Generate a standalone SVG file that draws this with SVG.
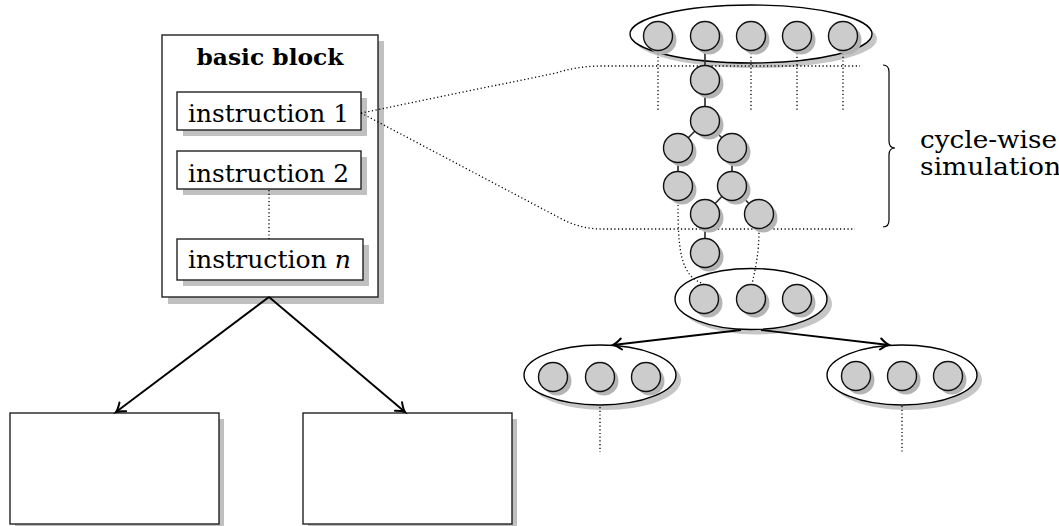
<svg xmlns="http://www.w3.org/2000/svg" width="1059" height="526" viewBox="0 0 1059 526">
  <defs>
    <marker id="arrow" markerUnits="userSpaceOnUse" markerWidth="20" markerHeight="20" viewBox="-10 -10 20 20" refX="0" refY="0" orient="auto">
      <path d="M-8.5,-5.5 C-5,-2.5 -2,-0.6 0,0 C-2,0.6 -5,2.5 -8.5,5.5" fill="none" stroke="#000" stroke-width="2" stroke-linecap="round"/>
    </marker>
  </defs>
  <style>
    .box { fill: #fff; stroke: #222; stroke-width: 1.4; }
    .shadow { fill: #c0c0c0; stroke: none; }
    .eshadow { fill: #c6c6c6; stroke: none; }
    .ell { fill: #fff; stroke: #000; stroke-width: 1.4; }
    .dot { fill: #ccc; stroke: #111; stroke-width: 1.4; }
    .dshadow { fill: #b4b4b4; stroke: none; }
    .dotted { fill: none; stroke: #000; stroke-width: 1.3; stroke-dasharray: 1.2 2.5; }
    .edge { fill: none; stroke: #333; stroke-width: 1.7; }
    .arrow { fill: none; stroke: #000; stroke-width: 1.9; marker-end: url(#arrow); }
    .lbl { font-family: "DejaVu Serif", "Liberation Serif", serif; font-size: 24.5px; fill: #000; }
    .title { font-family: "DejaVu Serif", "Liberation Serif", serif; font-size: 23px; font-weight: bold; fill: #000; }
  </style>

  <!-- basic block with its instruction list -->
  <g id="basic-block">
    <rect class="shadow" x="168" y="41" width="216" height="263"/>
    <rect class="box" x="162" y="35" width="216" height="262"/>
    <text class="title" x="270" y="65" text-anchor="middle" textLength="147" lengthAdjust="spacingAndGlyphs">basic block</text>
  </g>
  <g id="instruction-1">
    <rect class="shadow" x="183" y="98" width="184" height="38"/>
    <rect class="box" x="177" y="92" width="184" height="38"/>
    <text class="lbl" x="188" y="122" textLength="161" lengthAdjust="spacingAndGlyphs">instruction 1</text>
  </g>
  <g id="instruction-2">
    <rect class="shadow" x="183" y="157" width="184" height="38"/>
    <rect class="box" x="177" y="151" width="184" height="38"/>
    <text class="lbl" x="188" y="182" textLength="161" lengthAdjust="spacingAndGlyphs">instruction 2</text>
  </g>
  <g id="instruction-n">
    <rect class="shadow" x="183" y="245" width="186" height="41"/>
    <rect class="box" x="177" y="239" width="186" height="41"/>
    <text class="lbl" x="188" y="268" textLength="163" lengthAdjust="spacingAndGlyphs">instruction <tspan font-style="italic">n</tspan></text>
  </g>

  <!-- successor blocks -->
  <g id="successor-left">
    <rect class="shadow" x="15" y="419" width="209" height="111"/>
    <rect class="box" x="10" y="413" width="209" height="111"/>
  </g>
  <g id="successor-right">
    <rect class="shadow" x="308" y="419" width="209" height="111"/>
    <rect class="box" x="303" y="413" width="209" height="111"/>
  </g>

  <!-- state ellipses -->
  <g id="state-top">
    <ellipse class="eshadow" cx="756" cy="39" rx="121" ry="29"/>
    <ellipse class="ell" cx="751" cy="34" rx="121" ry="29"/>
  </g>
  <g id="state-middle">
    <ellipse class="eshadow" cx="756" cy="304" rx="76" ry="30.5"/>
    <ellipse class="ell" cx="751" cy="299" rx="76" ry="30.5"/>
  </g>
  <g id="state-left">
    <ellipse class="eshadow" cx="605" cy="380" rx="76" ry="30"/>
    <ellipse class="ell" cx="600" cy="375" rx="76" ry="30"/>
  </g>
  <g id="state-right">
    <ellipse class="eshadow" cx="907" cy="380" rx="75" ry="30"/>
    <ellipse class="ell" cx="902" cy="375" rx="75" ry="30"/>
  </g>

  <!-- connectors -->
  <g id="connectors">
    <line class="dotted" x1="269" y1="190" x2="269" y2="239"/>
    <path class="dotted" d="M361,113 L556,73 Q578,66 602,66 L860,66"/>
    <path class="dotted" d="M361,113 L558,217 Q579,229 602,229 L855,229"/>
    <line class="dotted" x1="658" y1="53" x2="658" y2="110"/>
    <line class="dotted" x1="751" y1="53" x2="751" y2="110"/>
    <line class="dotted" x1="797" y1="53" x2="797" y2="110"/>
    <line class="dotted" x1="843" y1="53" x2="843" y2="110"/>
    <path class="dotted" d="M678,201 C678,250 680,276 704,284"/>
    <path class="dotted" d="M759,229 C759,255 755,270 752,284"/>
    <line class="dotted" x1="600" y1="407" x2="600" y2="452"/>
    <line class="dotted" x1="902" y1="406" x2="902" y2="452"/>

    <line class="edge" x1="705" y1="36" x2="705" y2="80"/>
    <line class="edge" x1="705" y1="80" x2="705" y2="121"/>
    <line class="edge" x1="705" y1="121" x2="678" y2="148"/>
    <line class="edge" x1="705" y1="121" x2="732" y2="148"/>
    <line class="edge" x1="678" y1="148" x2="678" y2="186"/>
    <line class="edge" x1="732" y1="148" x2="732" y2="186"/>
    <line class="edge" x1="732" y1="186" x2="705" y2="214"/>
    <line class="edge" x1="732" y1="186" x2="759" y2="214"/>
    <line class="edge" x1="705" y1="214" x2="705" y2="253"/>

    <line class="arrow" x1="269" y1="297" x2="116" y2="412"/>
    <line class="arrow" x1="269" y1="297" x2="405" y2="412"/>
    <line class="arrow" x1="741" y1="330" x2="613" y2="345"/>
    <line class="arrow" x1="761" y1="330" x2="889" y2="345"/>
  </g>

  <!-- signal nodes -->
  <g id="nodes-top">
    <circle class="dshadow" cx="662" cy="40" r="14.5"/>
    <circle class="dshadow" cx="709" cy="40" r="14.5"/>
    <circle class="dshadow" cx="755" cy="40" r="14.5"/>
    <circle class="dshadow" cx="801" cy="40" r="14.5"/>
    <circle class="dshadow" cx="847" cy="40" r="14.5"/>
    <circle class="dot" cx="658" cy="36" r="14.5"/>
    <circle class="dot" cx="705" cy="36" r="14.5"/>
    <circle class="dot" cx="751" cy="36" r="14.5"/>
    <circle class="dot" cx="797" cy="36" r="14.5"/>
    <circle class="dot" cx="843" cy="36" r="14.5"/>
  </g>
  <g id="nodes-chain">
    <circle class="dshadow" cx="709" cy="84" r="14.5"/>
    <circle class="dshadow" cx="709" cy="125" r="14.5"/>
    <circle class="dshadow" cx="682" cy="152" r="14.5"/>
    <circle class="dshadow" cx="736" cy="152" r="14.5"/>
    <circle class="dshadow" cx="682" cy="190" r="14.5"/>
    <circle class="dshadow" cx="736" cy="190" r="14.5"/>
    <circle class="dshadow" cx="709" cy="218" r="14.5"/>
    <circle class="dshadow" cx="763" cy="218" r="14.5"/>
    <circle class="dshadow" cx="709" cy="257" r="14.5"/>
    <circle class="dot" cx="705" cy="80" r="14.5"/>
    <circle class="dot" cx="705" cy="121" r="14.5"/>
    <circle class="dot" cx="678" cy="148" r="14.5"/>
    <circle class="dot" cx="732" cy="148" r="14.5"/>
    <circle class="dot" cx="678" cy="186" r="14.5"/>
    <circle class="dot" cx="732" cy="186" r="14.5"/>
    <circle class="dot" cx="705" cy="214" r="14.5"/>
    <circle class="dot" cx="759" cy="214" r="14.5"/>
    <circle class="dot" cx="705" cy="253" r="14.5"/>
  </g>
  <g id="nodes-middle">
    <circle class="dshadow" cx="708" cy="303" r="14.5"/>
    <circle class="dshadow" cx="755" cy="303" r="14.5"/>
    <circle class="dshadow" cx="801" cy="303" r="14.5"/>
    <circle class="dot" cx="704" cy="299" r="14.5"/>
    <circle class="dot" cx="751" cy="299" r="14.5"/>
    <circle class="dot" cx="797" cy="299" r="14.5"/>
  </g>
  <g id="nodes-left">
    <circle class="dshadow" cx="557" cy="381" r="14.5"/>
    <circle class="dshadow" cx="604" cy="381" r="14.5"/>
    <circle class="dshadow" cx="650" cy="381" r="14.5"/>
    <circle class="dot" cx="553" cy="377" r="14.5"/>
    <circle class="dot" cx="600" cy="377" r="14.5"/>
    <circle class="dot" cx="646" cy="377" r="14.5"/>
  </g>
  <g id="nodes-right">
    <circle class="dshadow" cx="860" cy="380" r="14.5"/>
    <circle class="dshadow" cx="906" cy="380" r="14.5"/>
    <circle class="dshadow" cx="952" cy="380" r="14.5"/>
    <circle class="dot" cx="856" cy="376" r="14.5"/>
    <circle class="dot" cx="902" cy="376" r="14.5"/>
    <circle class="dot" cx="948" cy="376" r="14.5"/>
  </g>

  <!-- brace and its label -->
  <g id="cycle-brace">
    <path d="M883,65 Q889,65 889,72 L889,141 Q889,148 895,148 Q889,148 889,155 L889,220 Q889,227 883,227" fill="none" stroke="#000" stroke-width="1.2"/>
    <text class="lbl" x="920" y="148" textLength="137" lengthAdjust="spacingAndGlyphs">cycle-wise</text>
    <text class="lbl" x="920" y="175" textLength="141" lengthAdjust="spacingAndGlyphs">simulation</text>
  </g>
</svg>
